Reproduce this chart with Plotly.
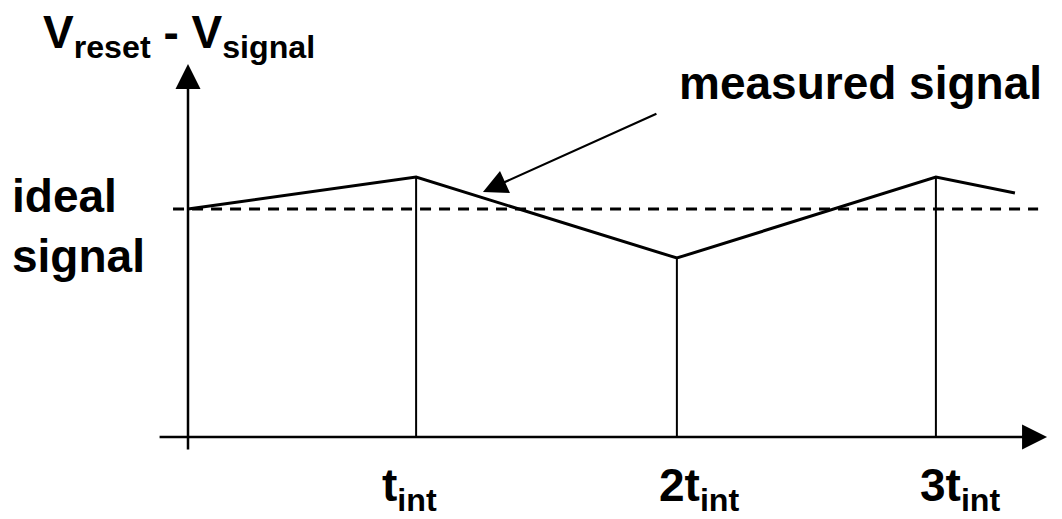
import plotly.graph_objects as go

# Time positions (units of t_int) and signal levels (ideal = 1)
sig_t = [0.0, 0.915, 1.961, 3.0, 3.317]
sig_v = [1.0, 1.14, 0.785, 1.14, 1.07]
ideal_t = [-0.06, 3.41]
ideal_v = [1.0, 1.0]
drop_t = [0.915, 1.961, 3.0]
drop_v = [1.14, 0.785, 1.14]
label_t = [0.890, 2.050, 3.097]
tick_labels = ["t<sub>int</sub>", "2t<sub>int</sub>", "3t<sub>int</sub>"]

FONT = dict(family="Liberation Sans, Arial, sans-serif", size=46, color="black")

fig = go.Figure()

# dashed ideal line
fig.add_trace(go.Scatter(x=ideal_t, y=ideal_v, mode="lines",
                         line=dict(color="black", width=3, dash="11px,8px"),
                         hoverinfo="skip", showlegend=False))
# vertical drops
dx, dy = [], []
for t, v in zip(drop_t, drop_v):
    dx += [t, t, None]
    dy += [0, v, None]
fig.add_trace(go.Scatter(x=dx, y=dy, mode="lines",
                         line=dict(color="black", width=2),
                         hoverinfo="skip", showlegend=False))
# measured signal
fig.add_trace(go.Scatter(x=sig_t, y=sig_v, mode="lines",
                         line=dict(color="black", width=3),
                         hoverinfo="skip", showlegend=False))

ann = []
# y axis with arrow
ann.append(dict(x=0, y=1.636, ax=0, ay=-0.061, xref="x", yref="y", axref="x", ayref="y",
                showarrow=True, arrowhead=2, arrowsize=2.0, arrowwidth=2.5,
                arrowcolor="black", text=""))
# x axis with arrow
ann.append(dict(x=3.446, y=0, ax=-0.12, ay=0, xref="x", yref="y", axref="x", ayref="y",
                showarrow=True, arrowhead=2, arrowsize=2.0, arrowwidth=2.5,
                arrowcolor="black", text=""))
# measured signal pointer
ann.append(dict(x=1.183, y=1.075, ax=1.885, ay=1.421, xref="x", yref="y", axref="x", ayref="y",
                showarrow=True, arrowhead=2, arrowsize=2.2, arrowwidth=2.2,
                arrowcolor="black", text=""))

ann.append(dict(x=2.696, y=1.553, xref="x", yref="y", showarrow=False,
                text="<b>measured signal</b>", font=FONT, xanchor="center", yanchor="middle"))
ann.append(dict(x=0.002, y=0.925, xref="paper", yref="y", showarrow=False,
                text="<b>ideal<br>signal</b>", font=FONT, xanchor="left", yanchor="middle",
                align="left"))
ann.append(dict(x=-0.036, y=1.760, xref="x", yref="y", showarrow=False,
                text="<b>V<sub>reset</sub> - V<sub>signal</sub></b>", font=FONT,
                xanchor="center", yanchor="middle"))
for t, lab in zip(label_t, tick_labels):
    ann.append(dict(x=t, y=-0.225, xref="x", yref="y", showarrow=False,
                    text="<b>" + lab + "</b>", font=FONT, xanchor="center", yanchor="middle"))

fig.update_layout(
    width=1062, height=519,
    margin=dict(l=0, r=0, t=0, b=0),
    paper_bgcolor="white", plot_bgcolor="white",
    xaxis=dict(range=[-0.7220, 3.5379], visible=False, fixedrange=True),
    yaxis=dict(range=[-0.3947, 1.8816], visible=False, fixedrange=True),
    annotations=ann,
    showlegend=False,
)

fig.write_html("out.html")
